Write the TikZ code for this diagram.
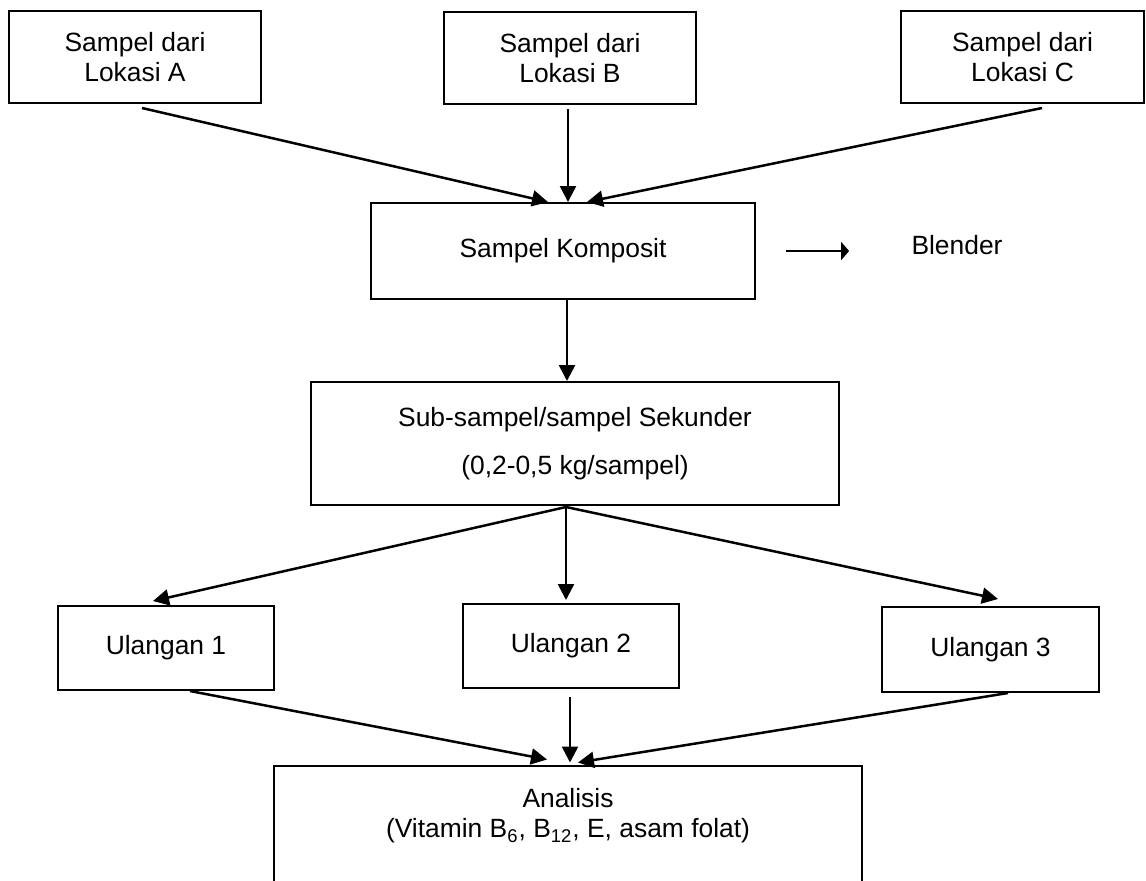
\documentclass[tikz,border=0pt]{standalone}
\usepackage{fontspec}
\setmainfont{Liberation Sans}
\usetikzlibrary{arrows.meta}

\begin{document}
\begin{tikzpicture}[
  x=0.5pt, y=-0.5pt,
  font=\fontsize{13.2}{15}\selectfont,
  box/.style={rectangle, draw=black, line width=1pt, align=center, inner sep=0pt},
  arrow/.style={-{Triangle[length=8pt,width=8pt]}, line width=1.25pt, draw=black}
]
\useasboundingbox (0,0) rectangle (1146,880);
\node[box, minimum width=126pt, minimum height=46pt] (lokA) at (135,57) {Sampel dari\\Lokasi A};
\node[box, minimum width=126pt, minimum height=46pt] (lokB) at (570,58) {Sampel dari\\Lokasi B};
\node[box, minimum width=121.5pt, minimum height=46pt] (lokC) at (1022.5,57) {Sampel dari\\Lokasi C};
\node[box, minimum width=192pt, minimum height=48pt] (komposit) at (563,251) {Sampel Komposit};
\node[inner sep=0pt] (blender) at (957,245) {Blender};
\node[box, minimum width=264pt, minimum height=61.5pt] (subsampel) at (575,443.5)
  {Sub-sampel/sampel Sekunder\\[9pt](0,2-0,5 kg/sampel)};
\node[box, minimum width=108pt, minimum height=42pt] (ul1) at (166,648) {Ulangan 1};
\node[box, minimum width=108pt, minimum height=42pt] (ul2) at (571,646) {Ulangan 2};
\node[box, minimum width=108.5pt, minimum height=42.5pt] (ul3) at (990.5,649.5) {Ulangan 3};
% box runs past the lower edge of the page
\node[box, minimum width=294pt, minimum height=63pt] (analisis) at (568,828.5)
  {\raisebox{0pt}[\height][\dimexpr\depth+12pt\relax]{\begin{tabular}{@{}c@{}}Analisis\\(Vitamin B\textsubscript{6}, B\textsubscript{12}, E, asam folat)\end{tabular}}};
\coordinate (split) at ([shift={(-9,1)}]subsampel.south);
% lokasi -> komposit
\draw[arrow] ([shift={(7,4)}]lokA.south) -- ([shift={(-15,0)}]komposit.north);
\draw[arrow] ([shift={(-2,4)}]lokB.south) -- ([shift={(5,0)}]komposit.north);
\draw[arrow] ([shift={(19.5,4)}]lokC.south) -- ([shift={(24,0)}]komposit.north);
\draw[arrow, -{Triangle[length=4pt,width=9pt]}, shorten <=15pt, shorten >=31pt]
  (komposit.east) -- (komposit.east -| blender.west);
% komposit -> sub-sampel -> ulangan
\draw[arrow] ([shift={(4,0)}]komposit.south) -- ([shift={(-8,0)}]subsampel.north);
\draw[arrow] (split) -- ([shift={(-13,-4)}]ul1.north);
\draw[arrow] (split) -- ([shift={(-5,-3)}]ul2.north);
\draw[arrow] (split) -- ([shift={(7.5,-7)}]ul3.north);
% ulangan -> analisis
\draw[arrow] ([shift={(24,0)}]ul1.south) -- ([shift={(-21,-5)}]analisis.north);
\draw[arrow] ([shift={(-1,8)}]ul2.south) -- ([shift={(2,-2)}]analisis.north);
\draw[arrow] ([shift={(17.5,0)}]ul3.south) -- ([shift={(10,-2)}]analisis.north);
\end{tikzpicture}
\end{document}
